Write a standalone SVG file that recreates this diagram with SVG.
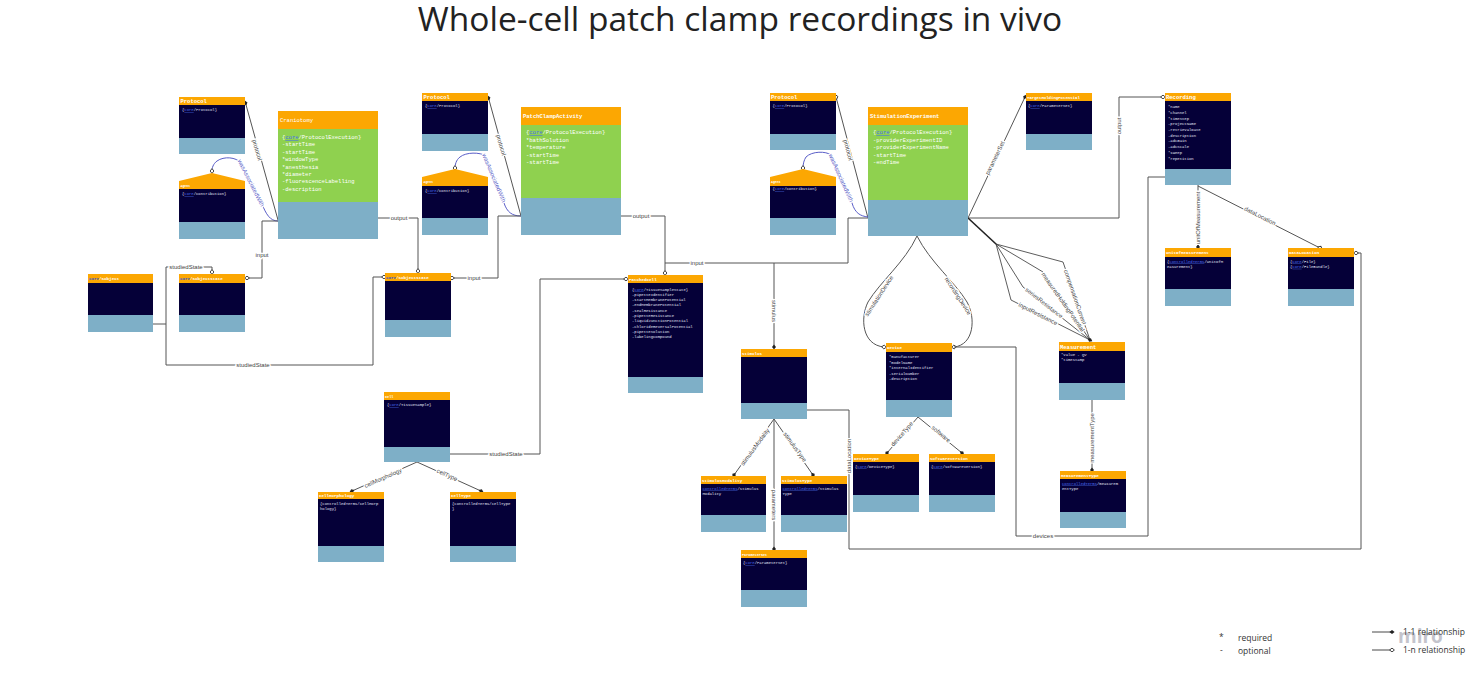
<svg xmlns="http://www.w3.org/2000/svg" width="1478" height="676" viewBox="0 0 1478 676">
<style>
.h{fill:#fca702}.b{fill:#050038}.f{fill:#7eafc7}.g{fill:#8fd14f}
.ht{font-family:'Liberation Mono',monospace;font-weight:bold;fill:#fff;font-size:4.2px}
.bt{font-family:'Liberation Mono',monospace;fill:#e4e4f4;font-size:3.9px}
.gt{font-family:'Liberation Mono',monospace;fill:#fff;font-size:5.5px}
.k{fill:#4a6cf0;text-decoration:underline}
.ln{stroke:#555;fill:none;stroke-width:1}
.bl{stroke:#5a5ec8;fill:none;stroke-width:1}
.lb{font-family:'Liberation Sans',Arial,sans-serif;font-size:6px;fill:#444;stroke:#fff;stroke-width:2.5;paint-order:stroke;text-anchor:middle;dominant-baseline:central}
.lbb{fill:#5a5ec8}
.lg{font-family:'Open Sans','Liberation Sans',sans-serif;font-size:8.5px;fill:#333}
</style>
<defs>
<marker id="o" viewBox="-3 -3 6 6" markerWidth="6" markerHeight="6" markerUnits="userSpaceOnUse" orient="auto"><path d="M-2.4,0 L0,-1.9 L2.4,0 L0,1.9 Z" fill="#fff" stroke="#333" stroke-width="0.9"/></marker>
<marker id="d" viewBox="-3 -3 6 6" markerWidth="6" markerHeight="6" markerUnits="userSpaceOnUse" orient="auto"><path d="M-2.6,0 L0,-2 L2.6,0 L0,2 Z" fill="#222"/></marker>
</defs>
<rect width="1478" height="676" fill="#fff"/>
<text x="740" y="31" text-anchor="middle" font-family="'Open Sans','Liberation Sans',sans-serif" font-size="33.5" fill="#222">Whole-cell patch clamp recordings in vivo</text>

<g id="connectors">
<path class="ln" d="M278,220 L245.5,103" marker-end="url(#d)"/>
<path class="bl" d="M278,221 C270,221 266,214 262,204 L241,163 C236,157 224,156 217,161 C213,164 212,168 212,171" marker-end="url(#o)"/>
<path class="ln" d="M278,221 H262 V278 H247" marker-end="url(#o)"/>
<path class="ln" d="M378,218 H418 V271" marker-end="url(#o)"/>
<path class="ln" d="M153,324 H166 V267 H212 V272" marker-end="url(#o)"/>
<path class="ln" d="M166,324 V365 H373 V277 H384" marker-end="url(#o)"/>
<path class="ln" d="M521,216 L488.5,98" marker-end="url(#d)"/>
<path class="bl" d="M521,216 C512,216 507,212 504,203 L486,156 C480,152 466,152 460,157 C456,160 455,165 455,168" marker-end="url(#o)"/>
<path class="ln" d="M521,216 H498 V278 H452" marker-end="url(#o)"/>
<path class="ln" d="M621,216 H665 V273" marker-end="url(#o)"/>
<path class="ln" d="M868,218 H848 V263 H665"/>
<path class="ln" d="M774,263 V347" marker-end="url(#d)"/>
<path class="ln" d="M450,454 H540 V279 H626" marker-end="url(#o)"/>
<path class="ln" d="M417,462 L352,491" marker-end="url(#d)"/>
<path class="ln" d="M417,462 L481,491" marker-end="url(#d)"/>
<path class="ln" d="M868,218 L836,97" marker-end="url(#o)"/>
<path class="bl" d="M868,217 C860,216 855,213 852,203 L831,155 C826,151 812,151 806,157 C804,160 803,164 803,168" marker-end="url(#o)"/>
<path class="ln" d="M968,218 L1025,97" marker-end="url(#d)"/>
<path class="ln" d="M968,218 H1119 V97 H1163" marker-end="url(#o)"/>
<path d="M968,218 L996,244" stroke="#222" stroke-width="1.6" fill="none"/>
<path d="M996,244 L1063,262 L1090,340 M996,244 L1043,272 L1090,340 M996,244 L1023,287 L1090,340" stroke="#333" stroke-width="0.8" fill="none"/>
<path d="M996,244 L1011,300 L1090,340" stroke="#333" stroke-width="0.8" fill="none" marker-end="url(#d)"/>
<path class="ln" d="M917,236 C905,262 880,282 868,302 C860,318 862,345 884,347" marker-end="url(#o)"/>
<path class="ln" d="M917,236 C930,262 955,282 967,302 C976,318 974,345 954,347" marker-end="url(#o)"/>
<path class="ln" d="M1165,177 H1148 V536 H1016 V347 H954"/>
<path class="ln" d="M1198,185 V247" marker-end="url(#d)"/>
<path class="ln" d="M1198,186 L1320,248" marker-end="url(#o)"/>
<path class="ln" d="M807,410 H849 V549 H1361 V253 H1356" marker-end="url(#o)"/>
<path class="ln" d="M774,419 L734,475" marker-end="url(#d)"/>
<path class="ln" d="M774,419 L813,475" marker-end="url(#d)"/>
<path class="ln" d="M774,419 V549" marker-end="url(#d)"/>
<path class="ln" d="M918,417 L887,453" marker-end="url(#d)"/>
<path class="ln" d="M918,417 L962,453" marker-end="url(#d)"/>
<path class="ln" d="M1092,400 V470" marker-end="url(#d)"/>

<text class="lb" transform="translate(257,150) rotate(74)">protocol</text>
<text class="lb lbb" transform="translate(251,183) rotate(63)">wasAssociatedWith</text>
<text class="lb" x="262" y="255">input</text>
<text class="lb" x="399" y="218">output</text>
<text class="lb" x="186" y="267">studiedState</text>
<text class="lb" x="253" y="365">studiedState</text>
<text class="lb" transform="translate(501,145) rotate(74)">protocol</text>
<text class="lb lbb" transform="translate(494,178) rotate(67)">wasAssociatedWith</text>
<text class="lb" x="474" y="278">input</text>
<text class="lb" x="641" y="216">output</text>
<text class="lb" x="697" y="263">input</text>
<text class="lb" transform="translate(774,311) rotate(90)">stimulus</text>
<text class="lb" x="506" y="454">studiedState</text>
<text class="lb" transform="translate(383,478) rotate(-24)">cellMorphology</text>
<text class="lb" transform="translate(447,475) rotate(24)">cellType</text>
<text class="lb" transform="translate(848,150) rotate(75)">protocol</text>
<text class="lb lbb" transform="translate(841,178) rotate(66)">wasAssociatedWith</text>
<text class="lb" transform="translate(995,158) rotate(-64)">parameterSet</text>
<text class="lb" transform="translate(1119,126) rotate(-90)">output</text>
<text class="lb" transform="translate(1075,297) rotate(71)">compensationCurrent</text>
<text class="lb" transform="translate(1063,302) rotate(55)">measuredHoldingPotential</text>
<text class="lb" transform="translate(1044,303) rotate(38)">seriesResistance</text>
<text class="lb" transform="translate(1038,314) rotate(27)">inputResistance</text>
<text class="lb" transform="translate(879,296) rotate(-57)">stimulationDevice</text>
<text class="lb" transform="translate(958,296) rotate(57)">recordingDevice</text>
<text class="lb" x="1043" y="536">devices</text>
<text class="lb" transform="translate(1198,218) rotate(-90)">unitOfMeasurement</text>
<text class="lb" transform="translate(1260,216) rotate(27)">dataLocation</text>
<text class="lb" transform="translate(849,456) rotate(-90)">dataLocation</text>
<text class="lb" transform="translate(755,447) rotate(-54)">stimulusModality</text>
<text class="lb" transform="translate(795,447) rotate(54)">stimulusType</text>
<text class="lb" transform="translate(774,505) rotate(90)">parameters</text>
<text class="lb" transform="translate(902,434) rotate(-49)">deviceType</text>
<text class="lb" transform="translate(941,434) rotate(40)">software</text>
<text class="lb" transform="translate(1092,438) rotate(-90)">measurementType</text>
</g>

<g id="protocol-1">
<rect class="h" x="179" y="97" width="66" height="8"/><rect class="b" x="179" y="105" width="66" height="33"/><rect class="f" x="179" y="138" width="66" height="16"/>
<text class="ht" x="180.5" y="103.3" style="font-size:5.5px">Protocol</text>
<text class="bt" x="182" y="111">{<tspan class="k">core</tspan>/Protocol}</text>
</g>
<g id="agent-1">
<polygon class="h" points="179,181 245,181 212,173"/>
<rect class="h" x="179" y="181" width="66" height="8"/><rect class="b" x="179" y="189" width="66" height="33"/><rect class="f" x="179" y="222" width="66" height="17"/>
<text class="ht" x="180.5" y="186.8" style="font-size:3.2px">Agent</text>
<text class="bt" x="182" y="195">{<tspan class="k">core</tspan>/Contribution}</text>
</g>
<g id="craniotomy">
<rect class="h" x="278" y="111" width="100" height="18"/><rect class="g" x="278" y="129" width="100" height="73"/><rect class="f" x="278" y="202" width="100" height="37"/>
<text class="ht" x="280" y="122" style="font-size:5.5px;font-weight:normal">Craniotomy</text>
<text class="gt" x="282" y="139">{<tspan class="k">core</tspan>/ProtocolExecution}</text>
<text class="gt" x="282" y="146.4">-startTime</text>
<text class="gt" x="282" y="153.8">-startTime</text>
<text class="gt" x="282" y="161.2">*windowType</text>
<text class="gt" x="282" y="168.6">*anesthesia</text>
<text class="gt" x="282" y="176">*diameter</text>
<text class="gt" x="282" y="183.4">-fluorescenceLabelling</text>
<text class="gt" x="282" y="190.8">-description</text>
</g>
<g id="subject">
<rect class="h" x="88" y="274" width="65" height="9"/><rect class="b" x="88" y="283" width="65" height="32"/><rect class="f" x="88" y="315" width="65" height="17"/>
<text class="ht" x="89" y="280.2"><tspan fill="#3355cc">core</tspan>/Subject</text>
</g>
<g id="subjectstate-1">
<rect class="h" x="179" y="274" width="66" height="9"/><rect class="b" x="179" y="283" width="66" height="32"/><rect class="f" x="179" y="315" width="66" height="17"/>
<text class="ht" x="180" y="280.2"><tspan fill="#3355cc">core</tspan>/SubjectState</text>
</g>
<g id="protocol-2">
<rect class="h" x="422" y="93" width="66" height="8"/><rect class="b" x="422" y="101" width="66" height="33"/><rect class="f" x="422" y="134" width="66" height="17"/>
<text class="ht" x="423.5" y="99.3" style="font-size:5.5px">Protocol</text>
<text class="bt" x="425" y="107">{<tspan class="k">core</tspan>/Protocol}</text>
</g>
<g id="agent-2">
<polygon class="h" points="422,177 488,177 455,169"/>
<rect class="h" x="422" y="177" width="66" height="9"/><rect class="b" x="422" y="186" width="66" height="32"/><rect class="f" x="422" y="218" width="66" height="17"/>
<text class="ht" x="423.5" y="183" style="font-size:3.2px">Agent</text>
<text class="bt" x="425" y="192">{<tspan class="k">core</tspan>/Contribution}</text>
</g>
<g id="patchclampactivity">
<rect class="h" x="521" y="107" width="100" height="18"/><rect class="g" x="521" y="125" width="100" height="73"/><rect class="f" x="521" y="198" width="100" height="37"/>
<text class="ht" x="523" y="118" style="font-size:5.5px">PatchClampActivity</text>
<text class="gt" x="526" y="134">{<tspan class="k">core</tspan>/ProtocolExecution}</text>
<text class="gt" x="526" y="141.5">*bathSolution</text>
<text class="gt" x="526" y="149">*temperature</text>
<text class="gt" x="526" y="156.5">-startTime</text>
<text class="gt" x="526" y="164">-startTime</text>
</g>
<g id="subjectstate-2">
<rect class="h" x="385" y="273" width="66" height="8"/><rect class="b" x="385" y="281" width="66" height="39"/><rect class="f" x="385" y="320" width="66" height="17"/>
<text class="ht" x="386" y="278.8"><tspan fill="#3355cc">core</tspan>/SubjectState</text>
</g>
<g id="patchedcell">
<rect class="h" x="628" y="275" width="75" height="8"/><rect class="b" x="628" y="283" width="75" height="94"/><rect class="f" x="628" y="377" width="75" height="16"/>
<text class="ht" x="629" y="280.8">PatchedCell</text>
<text class="bt" x="632" y="290.5">{<tspan class="k">core</tspan>/TissueSampleState}</text>
<text class="bt" x="632" y="295.8">-pipetteIdentifier</text>
<text class="bt" x="632" y="301.1">-startMembranePotential</text>
<text class="bt" x="632" y="306.4">-endMembranePotential</text>
<text class="bt" x="632" y="311.7">-sealResistance</text>
<text class="bt" x="632" y="317">-pipetteResistance</text>
<text class="bt" x="632" y="322.3">-liquidJunctionPotential</text>
<text class="bt" x="632" y="327.6">-chlorideReversalPotential</text>
<text class="bt" x="632" y="332.9">-pipetteSolution</text>
<text class="bt" x="632" y="338.2">-labelingCompound</text>
</g>
<g id="cell">
<rect class="h" x="384" y="392" width="66" height="8"/><rect class="b" x="384" y="400" width="66" height="47"/><rect class="f" x="384" y="447" width="66" height="15"/>
<text class="ht" x="385" y="397.8" style="font-size:3.5px">Cell</text>
<text class="bt" x="387" y="406">{<tspan class="k">core</tspan>/TissueSample}</text>
</g>
<g id="cellmorphology">
<rect class="h" x="318" y="492" width="66" height="7"/><rect class="b" x="318" y="499" width="66" height="47"/><rect class="f" x="318" y="546" width="66" height="16"/>
<text class="ht" x="319" y="497.3">CellMorphology</text>
<text class="bt" x="320" y="505">{controlledTerms/CellMorp</text>
<text class="bt" x="320" y="510.3">hology}</text>
</g>
<g id="celltype">
<rect class="h" x="450" y="492" width="66" height="7"/><rect class="b" x="450" y="499" width="66" height="47"/><rect class="f" x="450" y="546" width="66" height="16"/>
<text class="ht" x="451" y="497.3">CellType</text>
<text class="bt" x="452" y="505">{controlledTerms/cellType</text>
<text class="bt" x="452" y="510.3">}</text>
</g>
<g id="protocol-3">
<rect class="h" x="770" y="93" width="66" height="8"/><rect class="b" x="770" y="101" width="66" height="33"/><rect class="f" x="770" y="134" width="66" height="16"/>
<text class="ht" x="771" y="99.3" style="font-size:5.5px">Protocol</text>
<text class="bt" x="772.5" y="107">{<tspan class="k">core</tspan>/Protocol}</text>
</g>
<g id="agent-3">
<polygon class="h" points="770,177 836,177 803,169"/>
<rect class="h" x="770" y="177" width="66" height="9"/><rect class="b" x="770" y="186" width="66" height="32"/><rect class="f" x="770" y="218" width="66" height="17"/>
<text class="ht" x="771" y="183" style="font-size:3.2px">Agent</text>
<text class="bt" x="772.5" y="190">{<tspan class="k">core</tspan>/Contribution}</text>
</g>
<g id="stimulationexperiment">
<rect class="h" x="868" y="107" width="100" height="18"/><rect class="g" x="868" y="125" width="100" height="75"/><rect class="f" x="868" y="200" width="100" height="36"/>
<text class="ht" x="870" y="118" style="font-size:5.5px">StimulationExperiment</text>
<text class="gt" x="873" y="134">{<tspan class="k">core</tspan>/ProtocolExecution}</text>
<text class="gt" x="873" y="141.5">-providerExperimentID</text>
<text class="gt" x="873" y="149">-providerExperimentName</text>
<text class="gt" x="873" y="156.5">-startTime</text>
<text class="gt" x="873" y="164">-endTime</text>
</g>
<g id="targetholdingpotential">
<rect class="h" x="1026" y="93" width="66" height="8"/><rect class="b" x="1026" y="101" width="66" height="33"/><rect class="f" x="1026" y="134" width="66" height="16"/>
<text class="ht" x="1027" y="98.8" style="font-size:4px">TargetHoldingPotential</text>
<text class="bt" x="1028" y="107">{<tspan class="k">core</tspan>/ParameterSet}</text>
</g>
<g id="recording">
<rect class="h" x="1165" y="93" width="66" height="8"/><rect class="b" x="1165" y="101" width="66" height="68"/><rect class="f" x="1165" y="169" width="66" height="16"/>
<text class="ht" x="1166" y="99.3" style="font-size:5.5px">Recording</text>
<text class="bt" x="1168" y="108.2">*name</text>
<text class="bt" x="1168" y="113.9">*channel</text>
<text class="bt" x="1168" y="119.6">*timeStep</text>
<text class="bt" x="1168" y="125.3">-projectName</text>
<text class="bt" x="1168" y="131">-retrievalDate</text>
<text class="bt" x="1168" y="136.7">-description</text>
<text class="bt" x="1168" y="142.4">-adcGain</text>
<text class="bt" x="1168" y="148.1">-adcScale</text>
<text class="bt" x="1168" y="153.8">*sweep</text>
<text class="bt" x="1168" y="159.5">*repetition</text>
</g>
<g id="unitofmeasurement">
<rect class="h" x="1165" y="248" width="66" height="9"/><rect class="b" x="1165" y="257" width="66" height="32"/><rect class="f" x="1165" y="289" width="66" height="17"/>
<text class="ht" x="1166" y="254.2">UnitOfMeasurement</text>
<text class="bt" x="1167" y="262.5">{<tspan class="k">controlledTerms</tspan>/UnitOfM</text>
<text class="bt" x="1167" y="267.8">easurement}</text>
</g>
<g id="datalocation">
<rect class="h" x="1288" y="248" width="66" height="9"/><rect class="b" x="1288" y="257" width="66" height="32"/><rect class="f" x="1288" y="289" width="66" height="17"/>
<text class="ht" x="1289" y="254.2">DataLocation</text>
<text class="bt" x="1290" y="262.5">{<tspan class="k">core</tspan>/File}</text>
<text class="bt" x="1290" y="267.8">{<tspan class="k">core</tspan>/FileBundle}</text>
</g>
<g id="stimulus">
<rect class="h" x="741" y="349" width="66" height="8"/><rect class="b" x="741" y="357" width="66" height="46"/><rect class="f" x="741" y="403" width="66" height="16"/>
<text class="ht" x="742" y="354.5">Stimulus</text>
</g>
<g id="device">
<rect class="h" x="886" y="343" width="66" height="9"/><rect class="b" x="886" y="352" width="66" height="48"/><rect class="f" x="886" y="400" width="66" height="17"/>
<text class="ht" x="887" y="349.2">Device</text>
<text class="bt" x="889" y="358">*manufacturer</text>
<text class="bt" x="889" y="363.6">*modelName</text>
<text class="bt" x="889" y="369.2">*internalIdentifier</text>
<text class="bt" x="889" y="374.8">-serialNumber</text>
<text class="bt" x="889" y="380.4">-description</text>
</g>
<g id="devicetype">
<rect class="h" x="853" y="454" width="66" height="8"/><rect class="b" x="853" y="462" width="66" height="33"/><rect class="f" x="853" y="495" width="66" height="17"/>
<text class="ht" x="854" y="459.8">DeviceType</text>
<text class="bt" x="855" y="467.5">{<tspan class="k">core</tspan>/DeviceType}</text>
</g>
<g id="softwareversion">
<rect class="h" x="929" y="454" width="66" height="8"/><rect class="b" x="929" y="462" width="66" height="33"/><rect class="f" x="929" y="495" width="66" height="17"/>
<text class="ht" x="930" y="459.8">SoftwareVersion</text>
<text class="bt" x="931" y="467.5">{<tspan class="k">core</tspan>/softwareVersion}</text>
</g>
<g id="stimulusmodality">
<rect class="h" x="701" y="476" width="65" height="8"/><rect class="b" x="701" y="484" width="65" height="31"/><rect class="f" x="701" y="515" width="65" height="17"/>
<text class="ht" x="702" y="481.8">StimulusModality</text>
<text class="bt" x="702.5" y="489.5"><tspan class="k">controlledTerms</tspan>/stimulus</text>
<text class="bt" x="702.5" y="494.8">Modality</text>
</g>
<g id="stimulustype">
<rect class="h" x="781" y="476" width="66" height="8"/><rect class="b" x="781" y="484" width="66" height="31"/><rect class="f" x="781" y="515" width="66" height="17"/>
<text class="ht" x="782" y="481.8">StimulusType</text>
<text class="bt" x="782.5" y="489.5"><tspan class="k">controlledTerms</tspan>/Stimulus</text>
<text class="bt" x="782.5" y="494.8">Type</text>
</g>
<g id="parameterset">
<rect class="h" x="741" y="550" width="66" height="8"/><rect class="b" x="741" y="558" width="66" height="32"/><rect class="f" x="741" y="590" width="66" height="17"/>
<text class="ht" x="742" y="555.5" style="font-size:3.5px">ParameterSet</text>
<text class="bt" x="743" y="564">{<tspan class="k">core</tspan>/ParameterSet}</text>
</g>
<g id="measurement">
<rect class="h" x="1059" y="342" width="66" height="9"/><rect class="b" x="1059" y="351" width="66" height="32"/><rect class="f" x="1059" y="383" width="66" height="17"/>
<text class="ht" x="1060" y="348.8" style="font-size:5.5px">Measurement</text>
<text class="bt" x="1061" y="355.5">*value - QV</text>
<text class="bt" x="1061" y="361.2">*timestamp</text>
</g>
<g id="measurementtype">
<rect class="h" x="1060" y="471" width="66" height="8"/><rect class="b" x="1060" y="479" width="66" height="33"/><rect class="f" x="1060" y="512" width="66" height="16"/>
<text class="ht" x="1061" y="476.8">MeasurementType</text>
<text class="bt" x="1062" y="484.5"><tspan class="k">controlledTerms</tspan>/measurem</text>
<text class="bt" x="1062" y="489.8">entType</text>
</g>

<g id="legend">
<text x="1398" y="643" font-family="'Open Sans','Liberation Sans',sans-serif" font-weight="bold" font-size="19" fill="#c4c4cc">miro</text>
<text class="lg" x="1219" y="640">*</text>
<text class="lg" x="1238" y="641">required</text>
<text class="lg" x="1220" y="653">-</text>
<text class="lg" x="1238" y="653.5">optional</text>
<path d="M1372,632 H1392" stroke="#333" stroke-width="0.9" marker-end="url(#d)"/>
<path d="M1372,650 H1392" stroke="#333" stroke-width="0.9" marker-end="url(#o)"/>
<text class="lg" x="1403" y="635">1-1 relationship</text>
<text class="lg" x="1403" y="653">1-n relationship</text>
</g>
</svg>
